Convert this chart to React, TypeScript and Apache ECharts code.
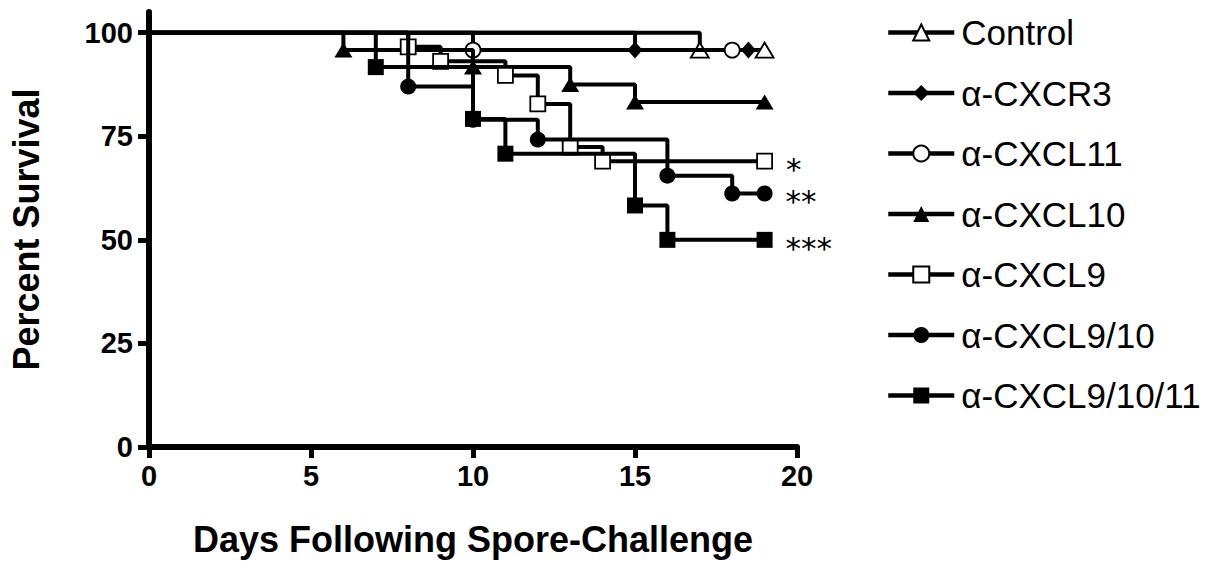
import React, { useEffect, useRef } from "react";
import * as echarts from "echarts";

// Kaplan–Meier survival data (day of event, percent surviving after it)
const seriesNames = ["Control", "α-CXCR3", "α-CXCL11", "α-CXCL10", "α-CXCL9", "α-CXCL9/10", "α-CXCL9/10/11"];

const controlDays = [0, 17, 19];
const controlSurv = [100, 95.8, 95.8];

const cxcr3Days = [0, 15, 18.5];
const cxcr3Surv = [100, 95.8, 95.8];

const cxcl11Days = [0, 10, 18];
const cxcl11Surv = [100, 95.8, 95.8];

const cxcl10Days = [0, 6, 10, 13, 15, 19];
const cxcl10Surv = [100, 95.8, 91.7, 87.5, 83.3, 83.3];

const cxcl9Days = [0, 8, 9, 11, 12, 13, 14, 19];
const cxcl9Surv = [100, 96.6, 93.1, 89.7, 82.8, 72.4, 69.0, 69.0];

const cxcl910Days = [0, 8, 10, 12, 16, 18, 19];
const cxcl910Surv = [100, 87.0, 79.0, 74.2, 65.5, 61.2, 61.2];

const cxcl91011Days = [0, 7, 10, 11, 15, 16, 19];
const cxcl91011Surv = [100, 91.7, 79.2, 70.8, 58.3, 50.0, 50.0];

const significance = ["", "", "", "", "*", "**", "***"];

const xTicks = [0, 5, 10, 15, 20];
const yTicks = [0, 25, 50, 75, 100];

const FONT = "Liberation Sans, Arial, sans-serif";

type Marker = { symbol: string; size: number | number[]; open: boolean };
const markers: Marker[] = [
  { symbol: "triangle", size: [18, 15], open: true },
  { symbol: "diamond", size: [15, 17], open: false },
  { symbol: "circle", size: 15, open: true },
  { symbol: "triangle", size: [18, 15], open: false },
  { symbol: "rect", size: 15, open: true },
  { symbol: "circle", size: 16, open: false },
  { symbol: "rect", size: 16, open: false },
];

const allDays = [controlDays, cxcr3Days, cxcl11Days, cxcl10Days, cxcl9Days, cxcl910Days, cxcl91011Days];
const allSurv = [controlSurv, cxcr3Surv, cxcl11Surv, cxcl10Surv, cxcl9Surv, cxcl910Surv, cxcl91011Surv];

export default function App() {
  const ref = useRef<HTMLDivElement>(null);

  useEffect(() => {
    document.body.style.margin = "0";
    if (!ref.current) return;
    const chart = echarts.init(ref.current, null, { renderer: "svg" });

    const series = seriesNames.map((name, i) => {
      const days = allDays[i];
      const surv = allSurv[i];
      const m = markers[i];
      const data = days.map((d, j) => {
        const item: any = { value: [d, surv[j]] };
        if (j === 0) item.symbol = "none";
        if (j === days.length - 1 && significance[i]) {
          item.label = {
            show: true,
            formatter: significance[i],
            position: "right",
            distance: 13,
            offset: [0, 8],
            fontSize: 31,
            lineHeight: 22,
            fontFamily: "DejaVu Sans, sans-serif",
            color: "#000",
          };
        }
        return item;
      });
      return {
        name,
        type: "line",
        step: "end",
        data,
        symbol: m.symbol,
        symbolSize: m.size,
        showSymbol: true,
        lineStyle: { color: "#000", width: 4 },
        itemStyle: {
          color: m.open ? "#fff" : "#000",
          borderColor: "#000",
          borderWidth: m.open ? 1.8 : 0,
        },
        emphasis: { disabled: true },
        z: 2 + i,
      };
    });

    chart.setOption({
      animation: false,
      backgroundColor: "#fff",
      grid: { left: 145, top: 12, width: 652, height: 435, containLabel: false },
      xAxis: {
        type: "value",
        min: 0,
        max: 20,
        interval: 5,
        name: "Days Following Spore-Challenge",
        nameLocation: "middle",
        nameGap: 74,
        nameTextStyle: { fontFamily: FONT, fontWeight: "bold", fontSize: 36, color: "#000" },
        axisLine: { show: true, onZero: false, lineStyle: { color: "#000", width: 6 } },
        axisTick: { show: true, length: 11, lineStyle: { color: "#000", width: 5 }, customValues: xTicks },
        axisLabel: {
          customValues: xTicks,
          margin: 14,
          fontFamily: FONT,
          fontWeight: "bold",
          fontSize: 29,
          color: "#000",
        },
        splitLine: { show: false },
      },
      yAxis: {
        type: "value",
        min: 0,
        max: 105,
        name: "Percent Survival",
        nameLocation: "middle",
        nameGap: 105,
        nameRotate: 90,
        nameTextStyle: { fontFamily: FONT, fontWeight: "bold", fontSize: 36, color: "#000" },
        axisLine: { show: true, onZero: false, lineStyle: { color: "#000", width: 6 } },
        axisTick: { show: true, length: 11, lineStyle: { color: "#000", width: 5 }, customValues: yTicks },
        axisLabel: {
          customValues: yTicks,
          margin: 16,
          fontFamily: FONT,
          fontWeight: "bold",
          fontSize: 29,
          color: "#000",
        },
        splitLine: { show: false },
      },
      legend: {
        orient: "vertical",
        left: 881,
        top: 10,
        itemWidth: 66,
        itemHeight: 20,
        itemGap: 25.5,
        data: seriesNames,
        lineStyle: { width: 4.5, color: "#000" },
        textStyle: { fontFamily: FONT, fontSize: 35, color: "#000", padding: [0, 0, 0, 2] },
        selectedMode: false,
      },
      series,
    });

    return () => chart.dispose();
  }, []);

  return <div ref={ref} style={{ width: 1212, height: 565 }} />;
}
